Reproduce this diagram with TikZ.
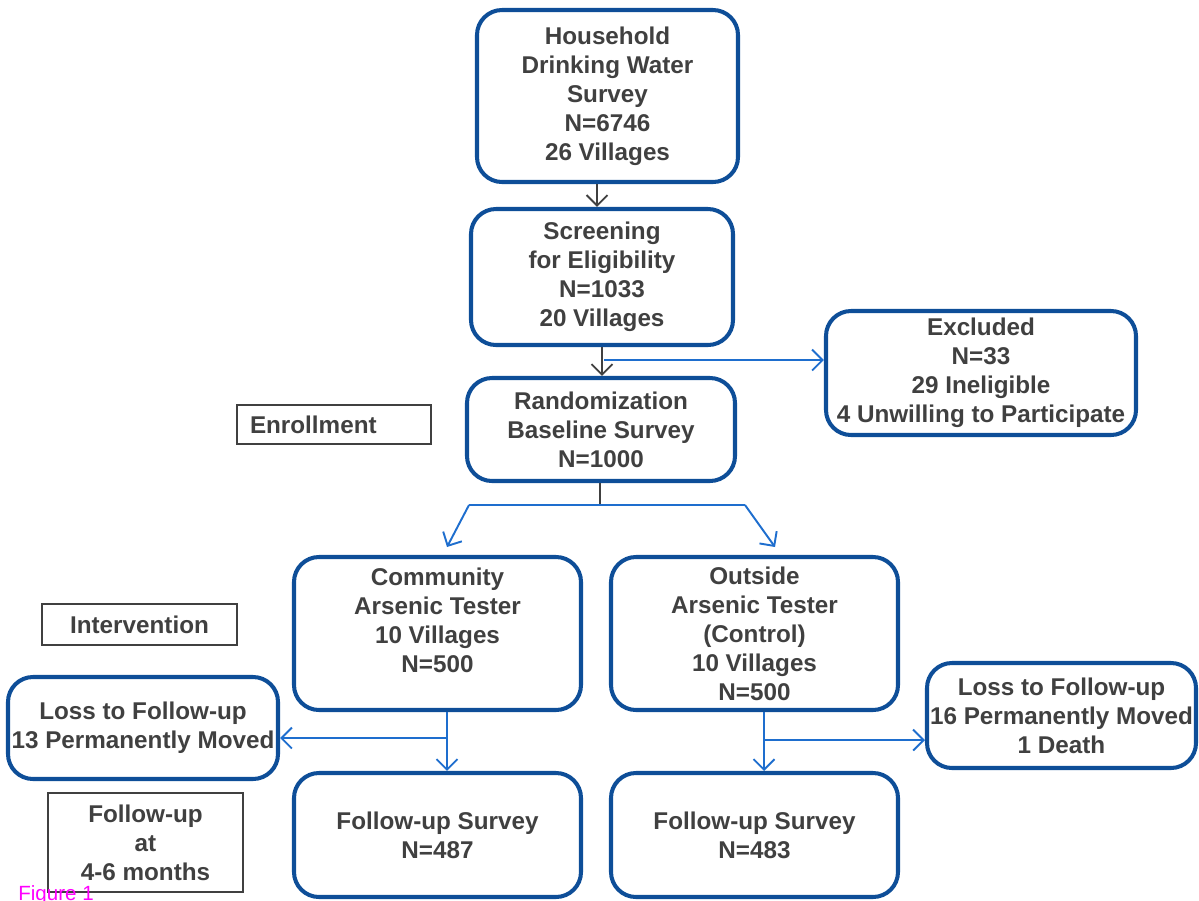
\documentclass[tikz,border=0pt]{standalone}
\usepackage{fontspec}
\setmainfont{Liberation Sans}
\usetikzlibrary{arrows.meta}
\definecolor{boxblue}{RGB}{14,78,152}
\definecolor{arrowblue}{RGB}{30,110,206}
\definecolor{textgray}{RGB}{64,64,64}
\tikzstyle{stage} = [rectangle, rounded corners=0.5cm, draw=boxblue, line width=2.3pt, align=center, text=textgray, font=\bfseries\fontsize{13.8}{16.5}\selectfont, inner sep=2pt]
\tikzstyle{phase} = [rectangle, draw=textgray, line width=1.1pt, align=center, text=textgray, font=\bfseries\fontsize{13.8}{16.5}\selectfont, inner sep=2pt]
\tikzstyle{flow} = [draw=arrowblue, line width=1.1pt, -{Straight Barb[length=6pt,width=12pt]}]
\tikzstyle{grayflow} = [draw=textgray, line width=1.1pt, -{Straight Barb[length=6pt,width=12pt]}]

\begin{document}
\begin{tikzpicture}

    \useasboundingbox (0,0) rectangle (23.98,-18);

    % Enrollment
    \node (hh) at (12.15,-1.92) [stage, minimum width=5.22cm, minimum height=3.44cm] {Household\\Drinking Water\\Survey\\N=6746\\26 Villages};
    \node (scr) at (12.04,-5.54) [stage, minimum width=5.24cm, minimum height=2.72cm] {Screening\\for Eligibility\\N=1033\\20 Villages};
    \node (excl) at (19.62,-7.46) [stage, minimum width=6.2cm, minimum height=2.48cm, inner sep=0pt] {Excluded\\N=33\\29 Ineligible\\4 Unwilling to Participate};
    \node (rand) at (12.02,-8.59) [stage, minimum width=5.36cm, minimum height=2.06cm] {Randomization\\Baseline Survey\\N=1000};
    \node (enrol) at (6.68,-8.49) [phase, minimum width=3.88cm, minimum height=0.78cm, align=left, text width=3.36cm, inner xsep=0.26cm] {Enrollment};

    % Intervention
    \node (comm) at (8.75,-12.67) [stage, minimum width=5.74cm, minimum height=3.06cm] {};
    \node (commtxt) at (8.75,-12.41) [align=center, text=textgray, font=\bfseries\fontsize{13.8}{16.5}\selectfont] {Community\\Arsenic Tester\\10 Villages\\N=500};
    \node (outs) at (15.09,-12.67) [stage, minimum width=5.74cm, minimum height=3.06cm] {Outside\\Arsenic Tester\\(Control)\\10 Villages\\N=500};
    \node (interv) at (2.79,-12.49) [phase, minimum width=3.9cm, minimum height=0.82cm] {Intervention};

    % Follow-up
    \node (lossl) at (2.86,-14.56) [stage, minimum width=5.4cm, minimum height=2.04cm, inner sep=0pt] {Loss to Follow-up\\13 Permanently Moved};
    \node (lossr) at (21.23,-14.31) [stage, minimum width=5.38cm, minimum height=2.1cm, inner sep=0pt] {Loss to Follow-up\\16 Permanently Moved\\1 Death};
    \node (ful) at (8.75,-16.7) [stage, minimum width=5.74cm, minimum height=2.48cm] {Follow-up Survey\\N=487};
    \node (fur) at (15.09,-16.7) [stage, minimum width=5.74cm, minimum height=2.48cm] {Follow-up Survey\\N=483};
    \node (fuat) at (2.91,-16.85) [phase, minimum width=3.9cm, minimum height=1.98cm] {Follow-up\\at\\4-6 months};

    \node (fig) at (0.36,-18.0) [anchor=base west, inner sep=0, text={rgb,255:red,255;green,0;blue,255}, font=\fontsize{11.7}{14}\selectfont] {Figure 1};

    % Connectors
    \draw[grayflow] ([xshift=-0.21cm]hh.south) -- ([xshift=-0.21cm]hh.south |- scr.north);
    \draw[grayflow] (scr.south) -- (scr.south |- rand.north);
    \coordinate (exbr) at (12.08,-7.2);
    \draw[flow] (exbr) -- (exbr -| excl.west);

    \coordinate (split) at (12.0,-10.1);
    \coordinate (splitl) at (9.38,-10.1);
    \coordinate (splitr) at (14.9,-10.1);
    \coordinate (tipl) at (8.94,-10.94);
    \coordinate (tipr) at (15.5,-10.94);
    \draw[textgray, line width=1.1pt] (split |- rand.south) -- (split);
    \draw[arrowblue, line width=1.1pt] (splitl) -- (splitr);
    \draw[flow] (splitl) -- (tipl);
    \draw[flow] (splitr) -- (tipr);

    \coordinate (lbr) at (8.94,-14.76);
    \draw[flow] (lbr |- comm.south) -- (lbr |- ful.north);
    \draw[flow] (lbr) -- (lbr -| lossl.east);
    \coordinate (rbr) at (15.28,-14.8);
    \draw[flow] (rbr |- outs.south) -- (rbr |- fur.north);
    \draw[flow] (rbr) -- (rbr -| lossr.west);

\end{tikzpicture}
\end{document}
